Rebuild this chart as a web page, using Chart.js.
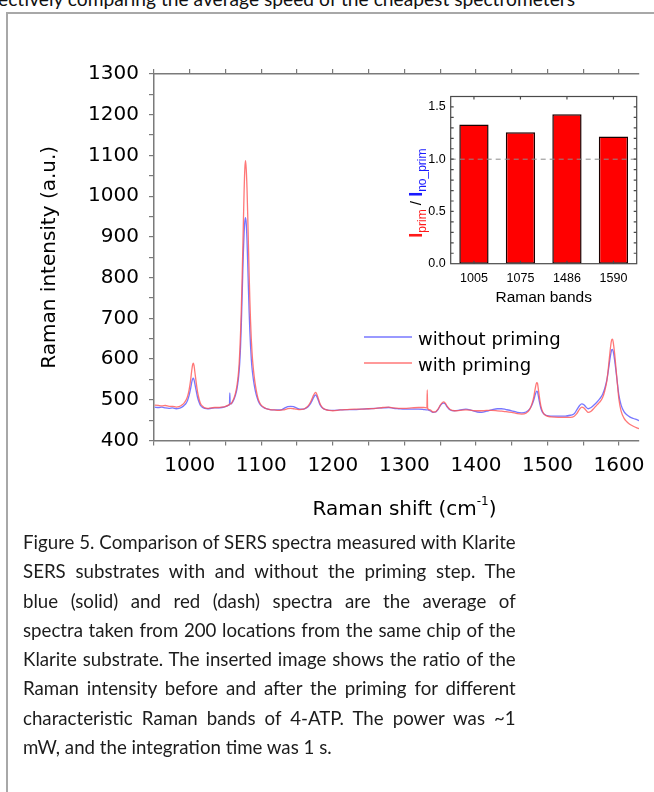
<!DOCTYPE html>
<html>
<head>
<meta charset="utf-8">
<script src="https://cdn.jsdelivr.net/npm/chart.js@4.4.1/dist/chart.umd.min.js"></script>
<style>
html,body{margin:0;padding:0;background:#fff;}
body{width:654px;height:792px;position:relative;overflow:hidden;}
#frame{position:absolute;left:6px;top:12px;width:720px;height:820px;border-left:2px solid #a8a8a8;border-top:2px solid #a8a8a8;}
#topcut{position:absolute;left:-2px;top:-13px;font:20px Lato,sans-serif;line-height:22px;white-space:nowrap;color:#111;transform:scaleX(0.96);transform-origin:0 0;}
#main{position:absolute;left:0;top:0;}
#inset{position:absolute;left:390px;top:84px;}
#caption{position:absolute;left:23px;top:527px;width:527.5px;transform:scaleX(0.934);transform-origin:0 0;font:20px Lato,sans-serif;line-height:29.3px;color:#1c1c1c;}
#caption div{white-space:nowrap;text-align:justify;text-align-last:justify;}
#caption div.last{text-align:left;text-align-last:left;}
</style>
</head>
<body>
<div id="frame"></div>
<div id="topcut">ectively comparing the average speed of the cheapest spectrometers</div>
<canvas id="main" width="654" height="530"></canvas>
<canvas id="inset" width="256" height="230"></canvas>
<div id="caption">
<div>Figure 5. Comparison of SERS spectra measured with Klarite</div>
<div>SERS substrates with and without the priming step. The</div>
<div>blue (solid) and red (dash) spectra are the average of</div>
<div>spectra taken from 200 locations from the same chip of the</div>
<div>Klarite substrate. The inserted image shows the ratio of the</div>
<div>Raman intensity before and after the priming for different</div>
<div>characteristic Raman bands of 4-ATP. The power was ~1</div>
<div class="last">mW, and the integration time was 1 s.</div>
</div>
<script>
// ---------- main spectrum data ----------
const ramanShift = [
  951,956,961,966,971,976,981,985,989,992,
  995,997,999,1001,1003,1004,1005,1006,1007,1009,
  1011,1013,1015,1018,1021,1025,1030,1035,1040,1045,
  1050,1054,1055.5,1056,1056.5,1058,1060,1062,1064,1066,
  1068,1069,1070,1071,1072,1073,1074,1075,1076,1077,
  1078,1079,1080,1081,1082,1083,1084,1085,1086,1087,
  1088,1090,1092,1094,1096,1099,1103,1107,1112,1118,
  1124,1129,1133,1137,1141,1145,1149,1154,1159,1163,
  1166,1169,1171,1173,1175,1176,1177,1179,1181,1183,
  1186,1190,1195,1200,1210,1220,1230,1240,1250,1260,
  1270,1278,1285,1292,1300,1310,1320,1327,1331.5,1332,
  1332.5,1336,1340,1344,1347,1350,1353,1355,1357,1360,
  1364,1370,1378,1386,1394,1402,1408,1415,1422,1430,
  1436,1442,1450,1458,1464,1470,1475,1478,1481,1483,
  1485,1486,1487,1489,1491,1494,1498,1505,1515,1525,
  1532,1537,1541,1545,1548,1551,1554,1557,1561,1565,
  1569,1573,1577,1580,1583,1585,1587,1589,1590,1591,
  1592,1594,1596,1598,1600,1603,1607,1611,1615,1620,
  1625,1628
];
const withoutPriming = [
  482,481,482,480,479,480,478,479,482,486,
  492,499,510,526,545,551,553,549,540,522,
  505,494,486,481,479,478,479,480,480,481,
  483,486,489,517,490,490,495,502,512,527,
  552,570,595,630,680,740,805,865,910,938,
  947,932,892,835,772,715,668,630,600,578,
  562,537,519,506,496,487,481,478,476,475,
  475,476,480,483,484,483,480,477,477,480,
  484,491,498,505,511,512,510,502,492,485,
  479,476,474,474,475,476,476,477,478,479,
  480,481,479,478,477,477,477,476,475,475,
  475,473,469,470,476,485,491,492,490,482,
  475,473,475,477,474,470,469,472,475,478,
  478,476,473,469,468,470,477,486,500,513,
  521,520,512,493,478,467,462,460,460,460,
  462,465,475,486,490,488,482,478,481,487,
  494,502,513,527,548,570,595,617,623,624,
  618,596,568,538,510,487,471,463,458,454,
  451,449
];
const withPriming = [
  487,486,485,486,484,484,482,483,487,492,
  500,509,524,546,575,586,590,584,570,542,
  518,502,491,484,480,479,480,481,481,482,
  484,487,489,490,490,491,497,505,517,535,
  565,588,622,665,720,785,860,940,1015,1068,
  1087,1065,1020,955,880,810,745,692,650,618,
  593,558,533,514,500,489,482,478,476,475,
  474,475,476,478,479,478,477,476,477,481,
  486,495,503,511,517,518,516,507,496,487,
  480,476,474,473,475,476,477,477,478,479,
  481,482,480,479,479,480,481,481,480,524,
  479,475,470,471,477,486,493,495,492,484,
  476,473,474,475,474,473,473,474,474,473,
  472,471,469,466,465,467,476,488,508,528,
  542,541,530,504,483,468,461,458,457,457,
  457,459,466,477,482,480,474,469,472,479,
  487,494,505,521,546,575,610,640,648,649,
  641,612,574,535,500,472,455,446,440,435,
  431,429
];
const seriesLabels = ['without priming', 'with priming'];
const shiftRange = [950, 1628];
const intensityRange = [400, 1300];
const shiftTicks = [950,1000,1050,1100,1150,1200,1250,1300,1350,1400,1450,1500,1550,1600];
const intensityTicks = [400,450,500,550,600,650,700,750,800,850,900,950,1000,1050,1100,1150,1200,1250,1300];

// ---------- inset data ----------
const bandLabels = ['1005', '1075', '1486', '1590'];
const intensityRatio = [1.333, 1.258, 1.430, 1.217];
const ratioRange = [0, 1.6];
const ratioTicks = [0, 0.5, 1.0, 1.5];
const ratioMinorTicks = [0.1,0.2,0.3,0.4,0.5,0.6,0.7,0.8,0.9,1.0,1.1,1.2,1.3,1.4,1.5];
const referenceRatio = 1.0;

const DJ = '"DejaVu Sans", sans-serif';
const LS = '"Liberation Sans", Arial, sans-serif';
const AXIS = '#7a7a7a';

const spectrumLegend = {
  id: 'spectrumLegend',
  afterDraw(chart) {
    const {ctx, chartArea: a} = chart;
    ctx.save();
    ctx.font = '18px ' + DJ;
    ctx.textBaseline = 'middle';
    chart.data.datasets.forEach((ds, i) => {
      const y = a.top + 263 + i * 26;
      ctx.strokeStyle = ds.borderColor;
      ctx.lineWidth = 1.3;
      ctx.beginPath();
      ctx.moveTo(a.left + 210, y);
      ctx.lineTo(a.left + 258, y);
      ctx.stroke();
      ctx.fillStyle = '#000';
      ctx.fillText(ds.label, a.left + 264, y + 3);
    });
    ctx.restore();
  }
};

const shiftTitle = {
  id: 'shiftTitle',
  afterDraw(chart) {
    const {ctx, chartArea: a} = chart;
    ctx.save();
    ctx.fillStyle = '#000';
    ctx.textBaseline = 'alphabetic';
    const main = 'Raman shift (cm', sup = '-1', close = ')';
    ctx.font = '20px ' + DJ;
    const w1 = ctx.measureText(main).width, w3 = ctx.measureText(close).width;
    ctx.font = '12px ' + DJ;
    const w2 = ctx.measureText(sup).width;
    let x = (a.left + a.right) / 2 + 8 - (w1 + w2 + w3) / 2;
    const y = a.bottom + 74.5;
    ctx.font = '20px ' + DJ;
    ctx.fillText(main, x, y); x += w1;
    ctx.font = '12px ' + DJ;
    ctx.fillText(sup, x, y - 10); x += w2;
    ctx.font = '20px ' + DJ;
    ctx.fillText(close, x, y);
    ctx.restore();
  }
};

const axisCommon = {
  grid: {drawOnChartArea: false, color: AXIS, tickLength: 5, lineWidth: 1.2},
  border: {color: AXIS, width: 1.5}
};

new Chart(document.getElementById('main'), {
  type: 'line',
  data: {
    datasets: [
      {
        label: seriesLabels[0],
        data: ramanShift.map((x, i) => ({x: x, y: withoutPriming[i]})),
        borderColor: 'rgba(95,95,255,0.85)',
        borderWidth: 1.3,
        pointRadius: 0,
        cubicInterpolationMode: 'monotone',
        order: 1
      },
      {
        label: seriesLabels[1],
        data: ramanShift.map((x, i) => ({x: x, y: withPriming[i]})),
        borderColor: 'rgba(255,85,85,0.8)',
        borderWidth: 1.3,
        pointRadius: 0,
        cubicInterpolationMode: 'monotone',
        order: 0
      }
    ]
  },
  options: {
    responsive: false,
    devicePixelRatio: 1,
    animation: false,
    layout: {padding: {left: 38, top: 74, right: 15, bottom: 0}},
    plugins: {legend: {display: false}, tooltip: {enabled: false}},
    scales: {
      x: {
        type: 'linear', position: 'bottom',
        min: shiftRange[0], max: shiftRange[1],
        afterBuildTicks(s) { s.ticks = shiftTicks.map(v => ({value: v})); },
        ticks: {autoSkip: false, maxRotation: 0, color: '#000', font: {family: DJ, size: 20}, padding: 8,
                callback: v => (v % 100 === 0 ? String(v) : '')},
        ...axisCommon,
        afterFit(s) { s.height = 89.5; }
      },
      xTop: {
        type: 'linear', position: 'top',
        min: shiftRange[0], max: shiftRange[1],
        afterBuildTicks(s) { s.ticks = shiftTicks.map(v => ({value: v})); },
        ticks: {display: false},
        ...axisCommon,
        afterFit(s) { s.height = 0; }
      },
      y: {
        min: intensityRange[0], max: intensityRange[1],
        afterBuildTicks(s) { s.ticks = intensityTicks.map(v => ({value: v})); },
        ticks: {autoSkip: false, color: '#000', font: {family: DJ, size: 20}, padding: 10,
                callback: v => (v % 100 === 0 ? String(v) : '')},
        title: {display: true, text: 'Raman intensity (a.u.)', color: '#000',
                font: {family: DJ, size: 20}, padding: {top: 0, bottom: 0}},
        ...axisCommon,
        afterFit(s) { s.width = 116; }
      }
    }
  },
  plugins: [spectrumLegend, shiftTitle]
});

// ---------- inset ----------
const insetDecor = {
  id: 'insetDecor',
  afterDatasetsDraw(chart) {
    const {ctx, chartArea: a, scales: {x, y}} = chart;
    ctx.save();
    const yr = y.getPixelForValue(referenceRatio);
    ctx.setLineDash([5, 4]);
    ctx.strokeStyle = '#8c8c8c';
    ctx.lineWidth = 1;
    ctx.beginPath(); ctx.moveTo(a.left, yr); ctx.lineTo(a.right, yr); ctx.stroke();
    ctx.setLineDash([]);
    ctx.strokeStyle = '#4a4a4a';
    ctx.lineWidth = 1.2;
    ctx.strokeRect(a.left, a.top, a.right - a.left, a.bottom - a.top);
    ctx.beginPath();
    ratioMinorTicks.forEach(v => {
      const py = y.getPixelForValue(v);
      ctx.moveTo(a.left, py); ctx.lineTo(a.left + 3, py);
      ctx.moveTo(a.right, py); ctx.lineTo(a.right - 3, py);
    });
    bandLabels.forEach((b, i) => {
      const px = x.getPixelForValue(i);
      ctx.moveTo(px, a.top); ctx.lineTo(px, a.top + 3);
      ctx.moveTo(px, a.bottom); ctx.lineTo(px, a.bottom - 3);
    });
    ctx.stroke();
    ctx.restore();
  },
  afterDraw(chart) {
    const {ctx, chartArea: a} = chart;
    const parts = [
      {t: 'I', font: 'bold 18px ' + LS, color: '#ff1a1a', dy: 0},
      {t: 'prim', font: '12px ' + LS, color: '#ff1a1a', dy: 4},
      {t: ' / ', font: '15px ' + LS, color: '#000', dy: -1},
      {t: 'I', font: 'bold 18px ' + LS, color: '#1a1aff', dy: 0},
      {t: 'no_prim', font: '12px ' + LS, color: '#1a1aff', dy: 4}
    ];
    ctx.save();
    ctx.translate(a.left - 29, (a.top + a.bottom) / 2 + 13);
    ctx.rotate(-Math.PI / 2);
    ctx.textBaseline = 'alphabetic';
    let total = 0;
    parts.forEach(p => { ctx.font = p.font; p.w = ctx.measureText(p.t).width; total += p.w; });
    let xx = -total / 2;
    parts.forEach(p => { ctx.font = p.font; ctx.fillStyle = p.color; ctx.fillText(p.t, xx, p.dy); xx += p.w; });
    ctx.restore();
  }
};

new Chart(document.getElementById('inset'), {
  type: 'bar',
  data: {
    labels: bandLabels,
    datasets: [{
      data: intensityRatio,
      backgroundColor: '#ff0000',
      borderColor: '#1a0000',
      borderWidth: 1.5,
      borderSkipped: false,
      barPercentage: 0.63,
      categoryPercentage: 1
    }]
  },
  options: {
    responsive: false,
    devicePixelRatio: 1,
    animation: false,
    layout: {padding: {left: 0, top: 10, right: 9.3, bottom: 0}},
    plugins: {legend: {display: false}, tooltip: {enabled: false}},
    scales: {
      x: {
        grid: {display: false, drawTicks: false},
        border: {display: false},
        ticks: {color: '#000', font: {family: LS, size: 12.5}, padding: 7},
        title: {display: true, text: 'Raman bands', color: '#000', font: {family: LS, size: 15.5},
                padding: {top: 0, bottom: 6.7}},
        afterFit(s) { s.height = 50.3; }
      },
      y: {
        min: ratioRange[0], max: ratioRange[1],
        afterBuildTicks(s) { s.ticks = ratioTicks.map(v => ({value: v})); },
        grid: {display: false, drawTicks: false},
        border: {display: false},
        ticks: {color: '#000', font: {family: LS, size: 12.5}, padding: 5, callback: v => Number(v).toFixed(1)},
        afterFit(s) { s.width = 60.7; }
      }
    }
  },
  plugins: [insetDecor]
});
</script>
</body>
</html>
